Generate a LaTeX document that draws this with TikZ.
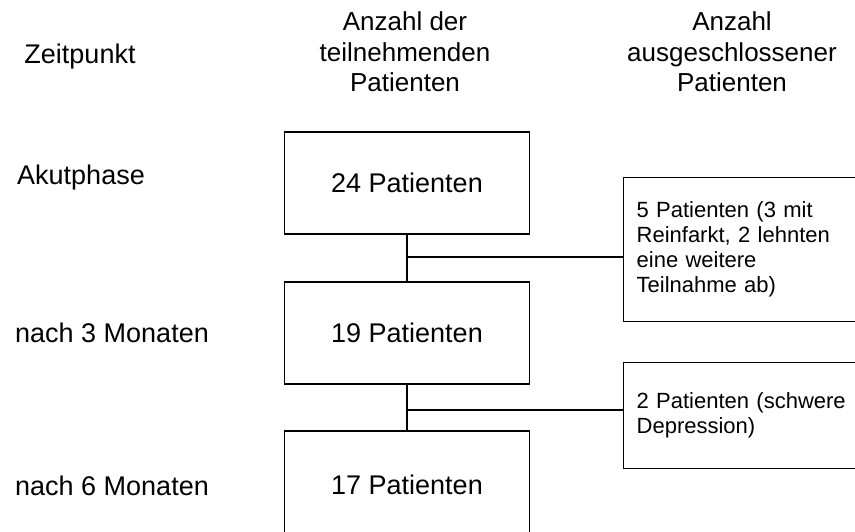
\documentclass[tikz,border=0pt]{standalone}
\usepackage{fontspec}
\setmainfont{Liberation Sans}
\usetikzlibrary{positioning}
\tikzset{pbox/.style={draw, line width=1.3pt, minimum width=245pt, minimum height=102pt, inner sep=0pt, font=\fontsize{27}{30}\selectfont}}
\tikzset{xbox/.style={draw, line width=1.3pt, anchor=north west, minimum width=260pt, text width=234pt, inner xsep=13pt, align=left, font=\fontsize{22}{25}\selectfont}}
\tikzset{lbl/.style={font=\fontsize{26}{30.5}\selectfont, align=center}}
\tikzset{tlbl/.style={font=\fontsize{27}{30}\selectfont, anchor=west, inner sep=0pt}}
\tikzset{conn/.style={draw, line width=1.3pt}}

\begin{document}
\begin{tikzpicture}[x=1pt,y=-1pt]
		\useasboundingbox (0,0) rectangle (855,531);
		\clip (0,0) rectangle (855,531);
		
		\node[lbl, font=\fontsize{27}{30}\selectfont] (hZ) at (80,57){Zeitpunkt};
		\node[lbl] (hT) at (405,52){Anzahl der\\teilnehmenden\\Patienten};
		\node[lbl] (hA) at (732,52){Anzahl\\ausgeschlossener\\Patienten};
		
		\node[tlbl] (t0) at (17,178){Akutphase};
		\node[tlbl] (t3) at (15,333){nach 3 Monaten};
		\node[tlbl] (t6) at (15,486){nach 6 Monaten};
		
		\node[pbox] (P24) at (407,183){24 Patienten};
		\node[pbox] (P19) at (407,333){19 Patienten};
		\node[pbox, minimum height=108pt] (P17) at (407,485){17 Patienten};
		
		\node[xbox, minimum height=144pt] (X5) at (623,177){5 Patienten (3 mit\\Reinfarkt, 2 lehnten\\eine weitere\\Teilnahme ab)};
		\node[xbox, minimum height=106pt] (X2) at (623,362){2 Patienten (schwere\\Depression)};
		
		\draw[conn] (P24) -- (P19);
		\draw[conn] (P19) -- (P17);
		
		\coordinate (b1) at (407,257);
		\coordinate (b2) at (407,410);
		\draw[conn] (b1) -- (b1 -| X5.west);
		\draw[conn] (b2) -- (b2 -| X2.west);
	\end{tikzpicture}
\end{document}
